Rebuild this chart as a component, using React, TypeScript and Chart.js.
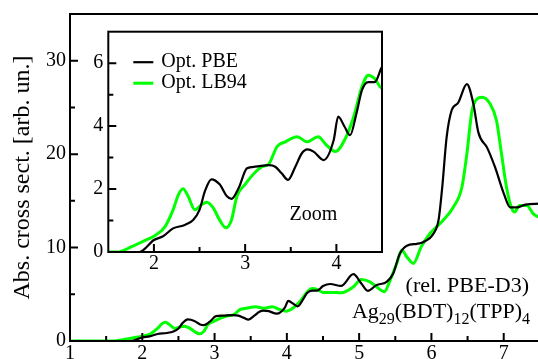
import React, { useEffect, useRef } from "react";
import { Chart, registerables } from "chart.js";
Chart.register(...registerables);

const pbeX = [1.0, 1.5, 1.84, 2.0, 2.1, 2.21, 2.34, 2.43, 2.5, 2.56, 2.63, 2.72, 2.8, 2.85, 2.93, 3.02, 3.11, 3.26, 3.33, 3.4, 3.47, 3.55, 3.62, 3.68, 3.75, 3.86, 3.97, 4.02, 4.09, 4.15, 4.22, 4.28, 4.35, 4.42, 4.5, 4.6, 4.75, 4.92, 5.03, 5.12, 5.24, 5.38, 5.47, 5.56, 5.66, 5.8, 5.89, 6.03, 6.1, 6.15, 6.21, 6.28, 6.37, 6.49, 6.58, 6.65, 6.77, 6.88, 7.0, 7.09, 7.18, 7.3, 7.5];
const pbeY = [0, 0, 0, 0.38, 0.5, 0.75, 0.86, 1.02, 1.34, 1.94, 2.31, 2.15, 1.77, 1.69, 2.04, 2.66, 2.71, 2.76, 2.71, 2.5, 2.29, 2.71, 3.13, 3.26, 3.19, 2.92, 3.55, 4.3, 3.98, 3.71, 4.4, 5.14, 5.4, 5.4, 5.88, 6.1, 5.9, 7.15, 6.16, 5.37, 5.98, 6.33, 7.2, 9.3, 10.2, 10.4, 10.6, 11.5, 13.0, 16.5, 21.8, 24.7, 25.5, 27.5, 25.4, 22.3, 20.7, 18.6, 15.8, 14.3, 14.3, 14.6, 14.7];

const lb94X = [1.0, 1.6, 1.75, 1.88, 2.0, 2.12, 2.21, 2.27, 2.32, 2.375, 2.45, 2.52, 2.58, 2.65, 2.72, 2.79, 2.85, 2.91, 3.0, 3.1, 3.18, 3.26, 3.35, 3.44, 3.57, 3.68, 3.8, 3.89, 3.99, 4.09, 4.19, 4.28, 4.35, 4.42, 4.5, 4.6, 4.75, 4.92, 5.03, 5.15, 5.24, 5.35, 5.42, 5.52, 5.59, 5.66, 5.75, 5.86, 5.98, 6.16, 6.3, 6.42, 6.49, 6.56, 6.63, 6.7, 6.81, 6.9, 6.97, 7.04, 7.11, 7.15, 7.22, 7.32, 7.41, 7.5];
const lb94Y = [0, 0, 0.16, 0.34, 0.5, 0.8, 1.34, 1.83, 2.01, 1.77, 1.34, 1.5, 1.58, 1.4, 1.02, 0.77, 1.02, 1.77, 2.15, 2.5, 2.7, 2.8, 3.35, 3.5, 3.66, 3.5, 3.66, 3.4, 3.19, 3.56, 4.3, 5.25, 5.62, 5.51, 5.2, 5.2, 5.16, 5.8, 6.58, 6.33, 5.8, 5.27, 6.33, 8.3, 9.7, 9.0, 8.3, 10.1, 11.5, 12.9, 14.3, 16.4, 20.0, 24.6, 25.9, 26.1, 25.4, 23.6, 20.0, 16.4, 14.2, 13.8, 14.5, 14.5, 13.6, 13.2];

const seriesLabels = ["Opt. PBE", "Opt. LB94"];
const seriesColors = ["#000000", "#00ff00"];

const mainXTicks = [1, 2, 3, 4, 5, 6, 7];
const mainXMinor = [1.5, 2.5, 3.5, 4.5, 5.5, 6.5, 7.5];
const mainYTicks = [0, 10, 20, 30];
const mainYMinor = [5, 15, 25];
const insetXTicks = [2, 3, 4];
const insetXMinor = [2.5, 3.5];
const insetYTicks = [0, 2, 4, 6];
const insetYMinor = [1, 3, 5];

const yTitle = "Abs. cross sect. [arb. un.]";
const insetNote = "Zoom";
const relNote = "(rel. PBE-D3)";
const formulaParts: [string, boolean][] = [["Ag", false], ["29", true], ["(BDT)", false], ["12", true], ["(TPP)", false], ["4", true]];

const FONT = "'Liberation Serif', 'Times New Roman', serif";
Chart.defaults.font.family = FONT;
Chart.defaults.color = "#000";

function pts(xs: number[], ys: number[]) {
  return xs.map((x, i) => ({ x, y: ys[i] }));
}

function makeDatasets(widths: number[]) {
  return [
    { label: seriesLabels[0], data: pts(pbeX, pbeY), borderColor: seriesColors[0], borderWidth: widths[0], pointRadius: 0, cubicInterpolationMode: "monotone" as const, fill: false },
    { label: seriesLabels[1], data: pts(lb94X, lb94Y), borderColor: seriesColors[1], borderWidth: widths[1], pointRadius: 0, cubicInterpolationMode: "monotone" as const, fill: false },
  ];
}

interface LabelCfg { size: number; xTop: number; yPad: number; }

function framePlugin(xMinor: number[], yMinor: number[], fillBg: boolean, lab: LabelCfg) {
  return {
    id: "frameTicks",
    beforeDraw(chart: any) {
      if (!fillBg) return;
      const { ctx, chartArea: a } = chart;
      ctx.save();
      ctx.fillStyle = "#fff";
      ctx.fillRect(a.left, a.top, a.right - a.left, a.bottom - a.top);
      ctx.restore();
    },
    afterDatasetsDraw(chart: any) {
      const { ctx, chartArea: a, scales } = chart;
      const xs = scales.x, ys = scales.y;
      ctx.save();
      ctx.strokeStyle = "#000";
      ctx.lineWidth = 2;
      ctx.beginPath();
      const tx = (v: number, len: number) => {
        const p = xs.getPixelForValue(v);
        ctx.moveTo(p, a.bottom);
        ctx.lineTo(p, a.bottom - len);
      };
      const ty = (v: number, len: number) => {
        const p = ys.getPixelForValue(v);
        ctx.moveTo(a.left, p);
        ctx.lineTo(a.left + len, p);
      };
      xs.ticks.forEach((t: any) => tx(t.value, 8));
      xMinor.forEach((v) => tx(v, 5));
      ys.ticks.forEach((t: any) => ty(t.value, 8));
      yMinor.forEach((v) => ty(v, 5));
      ctx.stroke();
      ctx.strokeRect(a.left, a.top, a.right - a.left, a.bottom - a.top);

      // tick labels (serif)
      ctx.fillStyle = "#000";
      ctx.font = `${lab.size}px ${FONT}`;
      ctx.textAlign = "center";
      ctx.textBaseline = "top";
      xs.ticks.forEach((t: any) => {
        ctx.fillText(t.label != null ? String(t.label) : String(t.value), xs.getPixelForValue(t.value), a.bottom + lab.xTop);
      });
      ctx.textAlign = "right";
      ctx.textBaseline = "middle";
      ys.ticks.forEach((t: any) => {
        ctx.fillText(t.label != null ? String(t.label) : String(t.value), a.left - lab.yPad, ys.getPixelForValue(t.value));
      });
      ctx.restore();
    },
  };
}

const mainTextPlugin = {
  id: "mainText",
  afterDraw(chart: any) {
    const { ctx } = chart;
    ctx.save();
    ctx.fillStyle = "#000";
    ctx.textBaseline = "alphabetic";
    ctx.font = `22px ${FONT}`;
    ctx.textAlign = "right";
    ctx.fillText(relNote, 529, 292);
    ctx.textAlign = "left";
    let total = 0;
    formulaParts.forEach(([t, sub]) => {
      ctx.font = sub ? `16px ${FONT}` : `22px ${FONT}`;
      total += ctx.measureText(t).width;
    });
    let x = 530 - total;
    formulaParts.forEach(([t, sub]) => {
      ctx.font = sub ? `16px ${FONT}` : `22px ${FONT}`;
      ctx.fillText(t, x, sub ? 324 : 318);
      x += ctx.measureText(t).width;
    });
    ctx.restore();
  },
};

const insetTextPlugin = {
  id: "insetText",
  afterDraw(chart: any) {
    const { ctx, chartArea: a } = chart;
    ctx.save();
    ctx.font = `20px ${FONT}`;
    ctx.textBaseline = "middle";
    ctx.textAlign = "left";
    chart.data.datasets.forEach((ds: any, i: number) => {
      const y = a.top + 30.5 + i * 21;
      ctx.strokeStyle = ds.borderColor;
      ctx.lineWidth = ds.borderWidth;
      ctx.beginPath();
      ctx.moveTo(a.left + 25, y);
      ctx.lineTo(a.left + 45, y);
      ctx.stroke();
      ctx.fillStyle = "#000";
      ctx.fillText(ds.label, a.left + 53, y);
    });
    ctx.textAlign = "center";
    ctx.textBaseline = "alphabetic";
    ctx.fillText(insetNote, a.left + 205, a.top + 188);
    ctx.restore();
  },
};

export default function App() {
  const mainRef = useRef<HTMLCanvasElement>(null);
  const insetRef = useRef<HTMLCanvasElement>(null);

  useEffect(() => {
    const main = new Chart(mainRef.current!, {
      type: "line",
      data: { datasets: makeDatasets([2.2, 3]) },
      options: {
        responsive: false,
        animation: false,
        events: [],
        layout: { padding: { top: 14, left: 0, right: 24, bottom: 0 } },
        plugins: { legend: { display: false }, tooltip: { enabled: false } },
        scales: {
          x: {
            type: "linear", min: 1, max: 8,
            grid: { display: false, drawTicks: false },
            border: { display: false },
            ticks: { display: false, autoSkip: false },
            afterBuildTicks: (s: any) => { s.ticks = mainXTicks.map((v) => ({ value: v, label: String(v) })); },
            afterFit: (s: any) => { s.height = 39; },
          },
          y: {
            type: "linear", min: 0, max: 35,
            grid: { display: false, drawTicks: false },
            border: { display: false },
            ticks: { display: false, autoSkip: false },
            afterBuildTicks: (s: any) => { s.ticks = mainYTicks.map((v) => ({ value: v, label: String(v) })); },
            afterFit: (s: any) => { s.width = 70; },
            title: { display: true, text: yTitle, color: "#000", font: { family: FONT, size: 24 }, padding: { top: 8, bottom: 0 } },
          },
        },
      },
      plugins: [framePlugin(mainXMinor, mainYMinor, false, { size: 20, xTop: 3, yPad: 4 }), mainTextPlugin],
    } as any);

    const inset = new Chart(insetRef.current!, {
      type: "line",
      data: { datasets: makeDatasets([2.2, 3]) },
      options: {
        responsive: false,
        animation: false,
        events: [],
        layout: { padding: { top: 11.7, left: 0, right: 8, bottom: 0 } },
        plugins: { legend: { display: false }, tooltip: { enabled: false } },
        scales: {
          x: {
            type: "linear", min: 1.5, max: 4.5,
            grid: { display: false, drawTicks: false },
            border: { display: false },
            ticks: { display: false, autoSkip: false },
            afterBuildTicks: (s: any) => { s.ticks = insetXTicks.map((v) => ({ value: v, label: String(v) })); },
            afterFit: (s: any) => { s.height = 28; },
          },
          y: {
            type: "linear", min: 0, max: 7,
            grid: { display: false, drawTicks: false },
            border: { display: false },
            ticks: { display: false, autoSkip: false },
            afterBuildTicks: (s: any) => { s.ticks = insetYTicks.map((v) => ({ value: v, label: String(v) })); },
            afterFit: (s: any) => { s.width = 28.3; },
          },
        },
      },
      plugins: [framePlugin(insetXMinor, insetYMinor, true, { size: 20, xTop: 2, yPad: 5 }), insetTextPlugin],
    } as any);

    return () => { main.destroy(); inset.destroy(); };
  }, []);

  return (
    <div style={{ position: "fixed", left: 0, top: 0, width: 538, height: 359, overflow: "hidden", background: "#fff" }}>
      <canvas ref={mainRef} width={600} height={380} style={{ position: "absolute", left: 0, top: 0, width: 600, height: 380 }} />
      <canvas ref={insetRef} width={310} height={260} style={{ position: "absolute", left: 80, top: 20, width: 310, height: 260 }} />
    </div>
  );
}
